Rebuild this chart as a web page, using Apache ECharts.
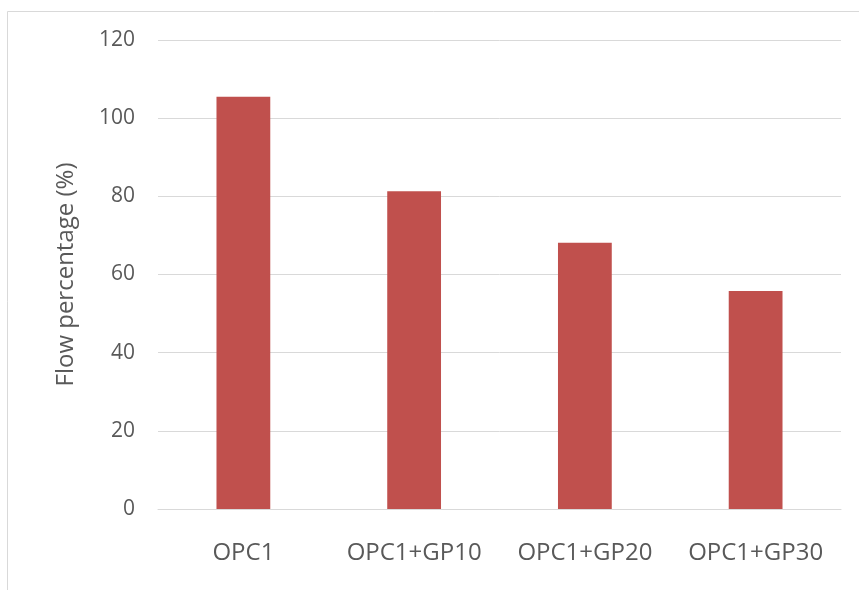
<!DOCTYPE html>
<html>
<head>
<meta charset="utf-8">
<script src="https://cdn.jsdelivr.net/npm/echarts@6/dist/echarts.min.js"></script>
<style>
  html, body { margin: 0; padding: 0; background: #ffffff; }
  #chart { width: 859px; height: 590px; }
</style>
</head>
<body>
<div id="chart"></div>
<script>
// Mix designs and their measured flow
const categories = ['OPC1', 'OPC1+GP10', 'OPC1+GP20', 'OPC1+GP30'];
const flowValues = [105.5, 81.3, 68.1, 55.8];
const yTicks = { min: 0, max: 120, interval: 20 };

const textColor = '#595959';
const fontFamily = '"Open Sans", sans-serif';

const chart = echarts.init(document.getElementById('chart'));
chart.setOption({
  animation: false,
  backgroundColor: '#ffffff',
  graphic: [{
    type: 'rect',
    shape: { x: 7.5, y: 11.5, width: 1000, height: 1000 },
    style: { fill: 'none', stroke: '#d9d9d9', lineWidth: 1 },
    silent: true
  }],
  grid: { left: 158, right: 18, top: 40, bottom: 81, containLabel: false },
  xAxis: {
    type: 'category',
    data: categories,
    axisLine: { show: true, lineStyle: { color: '#d9d9d9', width: 1 } },
    axisTick: { show: false },
    axisLabel: { interval: 0, color: textColor, fontSize: 24, fontFamily: fontFamily, margin: 32 }
  },
  yAxis: {
    type: 'value',
    min: yTicks.min,
    max: yTicks.max,
    interval: yTicks.interval,
    name: 'Flow percentage (%)',
    nameLocation: 'middle',
    nameGap: 80,
    nameTextStyle: { color: textColor, fontSize: 24, fontFamily: fontFamily },
    axisLine: { show: false },
    axisTick: { show: false },
    splitLine: { lineStyle: { color: '#d9d9d9', width: 1 } },
    axisLabel: { color: textColor, fontSize: 21, fontFamily: fontFamily, margin: 23 }
  },
  series: [{
    type: 'bar',
    data: flowValues,
    barWidth: '31.5%',
    itemStyle: { color: '#C0504D' }
  }]
});
</script>
</body>
</html>
